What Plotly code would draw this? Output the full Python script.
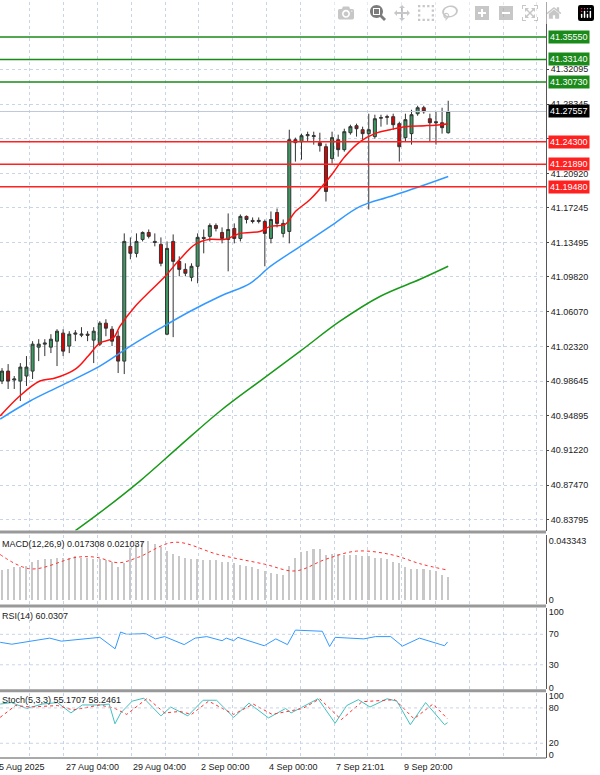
import plotly.graph_objects as go
from plotly.subplots import make_subplots

opens = [40.9864,40.9971,40.9875,40.9864,40.9918,40.9971,41.0228,41.0260,41.0228,41.0292,41.0378,41.0239,41.0367,41.0356,41.0367,41.0303,41.0260,41.0485,41.0420,41.0345,
 41.0078,41.1309,41.1234,41.1383,41.1458,41.1362,41.1330,41.0367,41.1362,41.1148,41.1062,41.0977,41.1095,41.1405,41.1416,41.1533,41.1458,41.1383,41.1501,41.1394,
 41.1630,41.1587,41.1576,41.1576,41.1394,41.1672,41.1448,41.1469,41.2453,41.2432,41.2496,41.2486,41.2421,41.2378,41.2250,41.2453,41.2346,41.2528,41.2603,41.2560,
 41.2518,41.2486,41.2684,41.2700,41.2700,41.2625,41.2475,41.2518,41.2732,41.2796,41.2678,41.2646,41.2635,41.2528]
closes = [40.9971,40.9864,40.9886,41.0014,41.0014,41.0260,41.0260,41.0271,41.0313,41.0399,41.0185,41.0367,41.0378,41.0367,41.0356,41.0399,41.0485,41.0431,41.0292,41.0078,
 41.1362,41.1234,41.1362,41.1458,41.1416,41.1352,41.1127,41.1287,41.1148,41.1062,41.1020,41.1095,41.1405,41.1394,41.1533,41.1501,41.1394,41.1490,41.1394,41.1630,
 41.1597,41.1576,41.1587,41.1448,41.1597,41.1555,41.1555,41.2453,41.2421,41.2496,41.2507,41.2496,41.2389,41.1897,41.2475,41.2346,41.2539,41.2593,41.2571,41.2518,
 41.2560,41.2678,41.2689,41.2695,41.2614,41.2378,41.2668,41.2721,41.2796,41.2753,41.2635,41.2635,41.2582,41.2756]
highs = [41.0003,41.0046,40.9918,41.0057,41.0132,41.0292,41.0313,41.0313,41.0367,41.0420,41.0420,41.0399,41.0410,41.0442,41.0399,41.0442,41.0506,41.0527,41.0453,41.0399,
 41.1448,41.1405,41.1448,41.1469,41.1490,41.1448,41.1405,41.1362,41.1437,41.1202,41.1127,41.1127,41.1448,41.1490,41.1555,41.1555,41.1512,41.1662,41.1555,41.1651,
 41.1640,41.1619,41.1619,41.1597,41.1683,41.1715,41.1597,41.2560,41.2475,41.2518,41.2539,41.2539,41.2528,41.2411,41.2539,41.2507,41.2571,41.2614,41.2625,41.2593,
 41.2732,41.2721,41.2721,41.2721,41.2732,41.2646,41.2732,41.2774,41.2817,41.2817,41.2732,41.2753,41.2796,41.2871]
lows = [40.9832,40.9779,40.9779,40.9650,40.9811,40.9886,41.0078,41.0132,41.0164,41.0025,41.0132,41.0164,41.0292,41.0335,41.0292,41.0057,41.0239,41.0345,41.0239,40.9950,
 40.9939,41.1170,41.1191,41.1362,41.1394,41.1309,41.1095,41.0356,41.0335,41.0988,41.0988,41.0934,41.0913,41.1234,41.1362,41.1469,41.1341,41.1041,41.1341,41.1362,
 41.1555,41.1555,41.1555,41.1095,41.1341,41.1512,41.1405,41.1341,41.2218,41.2239,41.2432,41.2400,41.2325,41.1790,41.2197,41.2271,41.2325,41.2507,41.2486,41.2453,
 41.1704,41.2464,41.2593,41.2614,41.2560,41.2218,41.2432,41.2400,41.2710,41.2732,41.2432,41.2400,41.2518,41.2518]

ma_fast_x = [-0.3,2.9,6.2,8.7,12,14.1,16,18.2,19.3,21.8,24.2,26.7,29.1,31.6,34,36.5,39,42.2,43.9,46.3,48,50.4,53.7,56.1,58.6,61,63.5,66,69.2,71.7,73]
ma_fast_y = [40.949,40.9704,40.9864,40.9896,40.9992,41.0132,41.0271,41.0324,41.0453,41.0667,41.0827,41.0988,41.1170,41.1330,41.1384,41.1384,41.1448,41.1469,41.1523,41.1544,41.1683,41.1811,41.2058,41.2272,41.2432,41.2518,41.2560,41.2593,41.2603,41.2614,41.2625]
ma_mid_x = [-0.3,4.6,9.5,16,21,25.9,30.8,35.7,40.6,43.9,48.8,53.7,58.6,63.5,68.4,73]
ma_mid_y = [40.9457,40.965,40.981,41.0024,41.0239,41.0431,41.0613,41.0774,41.0913,41.1094,41.1309,41.1523,41.1737,41.1844,41.1951,41.2058]
ma_slow_x = [12,16,22.6,29.1,35.7,42.2,48.8,55.3,61.9,68.4,73]
ma_slow_y = [40.8259,40.8452,40.8794,40.9169,40.9543,40.9864,41.0185,41.0506,41.0774,41.0956,41.1095]

macd_hist = [0.022,0.023,0.024,0.024,0.025,0.028,0.029,0.030,0.030,0.031,0.031,0.031,0.032,0.031,0.031,0.030,0.030,0.029,0.028,0.024,
 0.027,0.038,0.042,0.043,0.043,0.041,0.039,0.036,0.034,0.032,0.031,0.030,0.030,0.029,0.029,0.029,0.028,0.028,0.027,0.026,
 0.025,0.024,0.023,0.021,0.020,0.019,0.018,0.025,0.031,0.035,0.036,0.037,0.037,0.033,0.034,0.034,0.033,0.033,0.033,0.032,
 0.032,0.031,0.031,0.030,0.028,0.027,0.024,0.023,0.023,0.023,0.022,0.021,0.018,0.017]
macd_sig_x = [-0.3,4.7,12.2,15.4,19.1,22.3,28.2,35.4,42.9,48,53,58,63.6,68.6,72.7]
macd_sig_y = [0.033,0.0225,0.031,0.031,0.027,0.031,0.042,0.033,0.026,0.021,0.0296,0.0355,0.033,0.026,0.0218]

rsi_x = [-0.3,1.6,7.8,9.7,16,18.5,19.4,20.4,23.5,25.1,26.6,29.8,31.6,33.5,36,36.7,37.9,38.6,42.9,44.8,46.7,48,52.4,53.6,54.5,59.2,61.1,63.6,65.5,68.3,71.8,72.4,72.9]
rsi_y = [59.5,57,65,61,66,51,73,70,71,64,67,56.5,65,67,61.6,65,61.6,66,55,64,56.5,75.5,74,54,66,64,67,67,54.5,65,56.5,55,60]

stk_x = [-0.3,1.55,4.06,6.57,9.07,11.27,13.15,15.97,17.54,18.48,19.42,21.3,23.2,26.0,27.6,30.4,32.9,35.1,37.9,40.4,43.6,46.4,47.3,49.2,51.7,54.5,56.4,58.3,60.2,63.0,64.6,66.8,69.3,72.4,72.9]
stk_y = [86.5,89,79,86.5,89,71.5,85,85,86.5,53,71.5,91.5,96.5,66.5,81.5,66.5,93,93,64,88,63,79,71.5,81.5,95.5,54,84,94,81.5,95.5,91.5,51.5,89,51.5,55]
std_x = [-0.3,2.2,4.7,9.1,11.6,16.0,18.5,20.4,23.8,26.6,29.1,31.0,33.8,37.9,41.1,44.2,49.2,52.0,55.5,58.9,64.3,67.4,70.5,72.9]
std_y = [64,84,81.5,84,76.5,85,79,69,96.5,71.5,74,69,91.5,69,86.5,69,79,95.5,60,90.5,94,61.5,86.5,61.5]

price_ticks = [41.39320,41.32095,41.28345,41.24670,41.20920,41.17245,41.13495,41.09820,41.06070,41.02320,40.98645,40.94895,40.91220,40.87470,40.83795]
green_levels = [41.35550,41.33140,41.30730]
red_levels = [41.24300,41.21890,41.19480]
last_price = 41.27557
date_labels = ["27 Aug 04:00","29 Aug 04:00","2 Sep 00:00","4 Sep 00:00","7 Sep 21:01","9 Sep 20:00"]
date_pos = [10.1,21.1,32.2,43.4,54.3,65.5]
first_date_label = "25 Aug 2025"

FONT = "Liberation Sans"
idx = list(range(len(opens)))
fig = make_subplots(rows=4, cols=1, shared_xaxes=True)
fig.add_trace(go.Candlestick(x=idx, open=opens, high=highs, low=lows, close=closes,
    increasing=dict(fillcolor="#3c9a62", line=dict(color="#333333", width=1)),
    decreasing=dict(fillcolor="#e00000", line=dict(color="#333333", width=1)),
    whiskerwidth=0, showlegend=False), row=1, col=1)
fig.add_trace(go.Scatter(x=ma_slow_x, y=ma_slow_y, mode="lines", line=dict(color="#1a9a1a", width=1.5), line_shape="spline", showlegend=False), row=1, col=1)
fig.add_trace(go.Scatter(x=ma_mid_x, y=ma_mid_y, mode="lines", line=dict(color="#3399ff", width=1.5), line_shape="spline", showlegend=False), row=1, col=1)
fig.add_trace(go.Scatter(x=ma_fast_x, y=ma_fast_y, mode="lines", line=dict(color="#ff1010", width=1.5), line_shape="spline", showlegend=False), row=1, col=1)

fig.add_trace(go.Bar(x=idx, y=macd_hist, marker=dict(color="#c8c8c8", line=dict(width=0)), width=0.25, showlegend=False), row=2, col=1)
fig.add_trace(go.Scatter(x=macd_sig_x, y=macd_sig_y, mode="lines", line=dict(color="#ff3030", width=1, dash="dot"), line_shape="spline", showlegend=False), row=2, col=1)
fig.add_trace(go.Scatter(x=rsi_x, y=rsi_y, mode="lines", line=dict(color="#3399ff", width=1), showlegend=False), row=3, col=1)
fig.add_trace(go.Scatter(x=stk_x, y=stk_y, mode="lines", line=dict(color="#40c0c0", width=1), showlegend=False), row=4, col=1)
fig.add_trace(go.Scatter(x=std_x, y=std_y, mode="lines", line=dict(color="#ff3030", width=1, dash="dot"), showlegend=False), row=4, col=1)

H = 758.0
def dom(top, bot):
    return [1 - bot / H, 1 - top / H]

grid = dict(showgrid=True, gridcolor="#c8d4e8", griddash="dot", gridwidth=1)
xgrid_vals = [10.1 + 5.53 * k for k in range(-2, 15)]
xcommon = dict(range=[-0.33, 89.0], tickvals=xgrid_vals, showticklabels=False, ticks="", zeroline=False, **grid)
fig.update_layout(
    width=600, height=775, margin=dict(l=0, r=54, t=0, b=17),
    plot_bgcolor="white", paper_bgcolor="white",
    font=dict(family=FONT, size=9, color="#222"),
    xaxis=dict(rangeslider=dict(visible=False), **xcommon),
    xaxis2=dict(**xcommon), xaxis3=dict(**xcommon), xaxis4=dict(**xcommon),
    yaxis=dict(domain=dom(0, 530), range=[40.826, 41.393], side="right", tickvals=price_ticks,
               ticktext=[f"{v:.5f}" for v in price_ticks], ticks="outside", ticklen=2, showline=True, linecolor="#555", **grid),
    yaxis2=dict(domain=dom(534, 604), range=[-0.0035, 0.0476], side="right", tickvals=[0, 0.043343],
                ticktext=["0", "0.043343"], showgrid=False, showline=True, linecolor="#555", zeroline=False),
    yaxis3=dict(domain=dom(608, 689), range=[-2, 104], side="right", tickvals=[0, 30, 70, 100], showline=True, linecolor="#555",
                showgrid=False, zeroline=False),
    yaxis4=dict(domain=dom(693, 758), range=[-5, 105], side="right", tickvals=[0, 20, 80, 100], showline=True, linecolor="#555",
                showgrid=False, zeroline=False),
    bargap=0,
)

shapes = []
for v in green_levels:
    shapes.append(dict(type="line", xref="x domain", yref="y", x0=0, x1=1, y0=v, y1=v, line=dict(color="#1a8a1a", width=1.5)))
for v in red_levels:
    shapes.append(dict(type="line", xref="x domain", yref="y", x0=0, x1=1, y0=v, y1=v, line=dict(color="#ff2020", width=1.5)))
shapes.append(dict(type="line", xref="x domain", yref="y", x0=0, x1=1, y0=last_price, y1=last_price, line=dict(color="#c0c8d8", width=1)))
for v in [30, 70]:
    shapes.append(dict(type="line", xref="x3 domain", yref="y3", x0=0, x1=1, y0=v, y1=v, line=dict(color="#c8d4e8", width=1, dash="dot")))
for v in [20, 80]:
    shapes.append(dict(type="line", xref="x4 domain", yref="y4", x0=0, x1=1, y0=v, y1=v, line=dict(color="#c8d4e8", width=1, dash="dot")))
for yb in [531.5, 605.5, 690.5]:
    shapes.append(dict(type="line", xref="paper", yref="paper", x0=0, x1=1, y0=1 - yb / H, y1=1 - yb / H, line=dict(color="#999", width=3)))
shapes.append(dict(type="line", xref="paper", yref="paper", x0=0, x1=1, y0=0, y1=0, line=dict(color="#555", width=1)))
fig.update_layout(shapes=shapes)

ann = []
def level_label(v, bg):
    return dict(xref="paper", yref="y", x=1, y=v, xanchor="left", xshift=2, text=f"{v:.5f}", showarrow=False,
                bgcolor=bg, font=dict(color="white", size=9, family=FONT), borderpad=1)
for v in green_levels:
    ann.append(level_label(v, "#1a8a1a"))
for v in red_levels:
    ann.append(level_label(v, "#ff2020"))
ann.append(level_label(last_price, "#000"))
ann.append(dict(xref="paper", yref="paper", x=0, y=1 - 536 / H, xanchor="left", yanchor="top", text="MACD(12,26,9) 0.017308 0.021037", showarrow=False))
ann.append(dict(xref="paper", yref="paper", x=0, y=1 - 609 / H, xanchor="left", yanchor="top", text="RSI(14) 60.0307", showarrow=False))
ann.append(dict(xref="paper", yref="paper", x=0, y=1 - 693 / H, xanchor="left", yanchor="top", text="Stoch(5,3,3) 55.1707 58.2461", showarrow=False))
ann.append(dict(xref="paper", yref="paper", x=0, y=0, xanchor="left", yanchor="top", xshift=-8, yshift=-2, text=first_date_label, showarrow=False))
for p, t in zip(date_pos, date_labels):
    ann.append(dict(xref="x4", yref="paper", x=p, y=0, xanchor="left", yanchor="top", yshift=-2, text=t, showarrow=False))
fig.update_layout(annotations=ann)

fig.write_html("out.html", post_script="document.body.style.margin='0';document.body.style.padding='0';")
